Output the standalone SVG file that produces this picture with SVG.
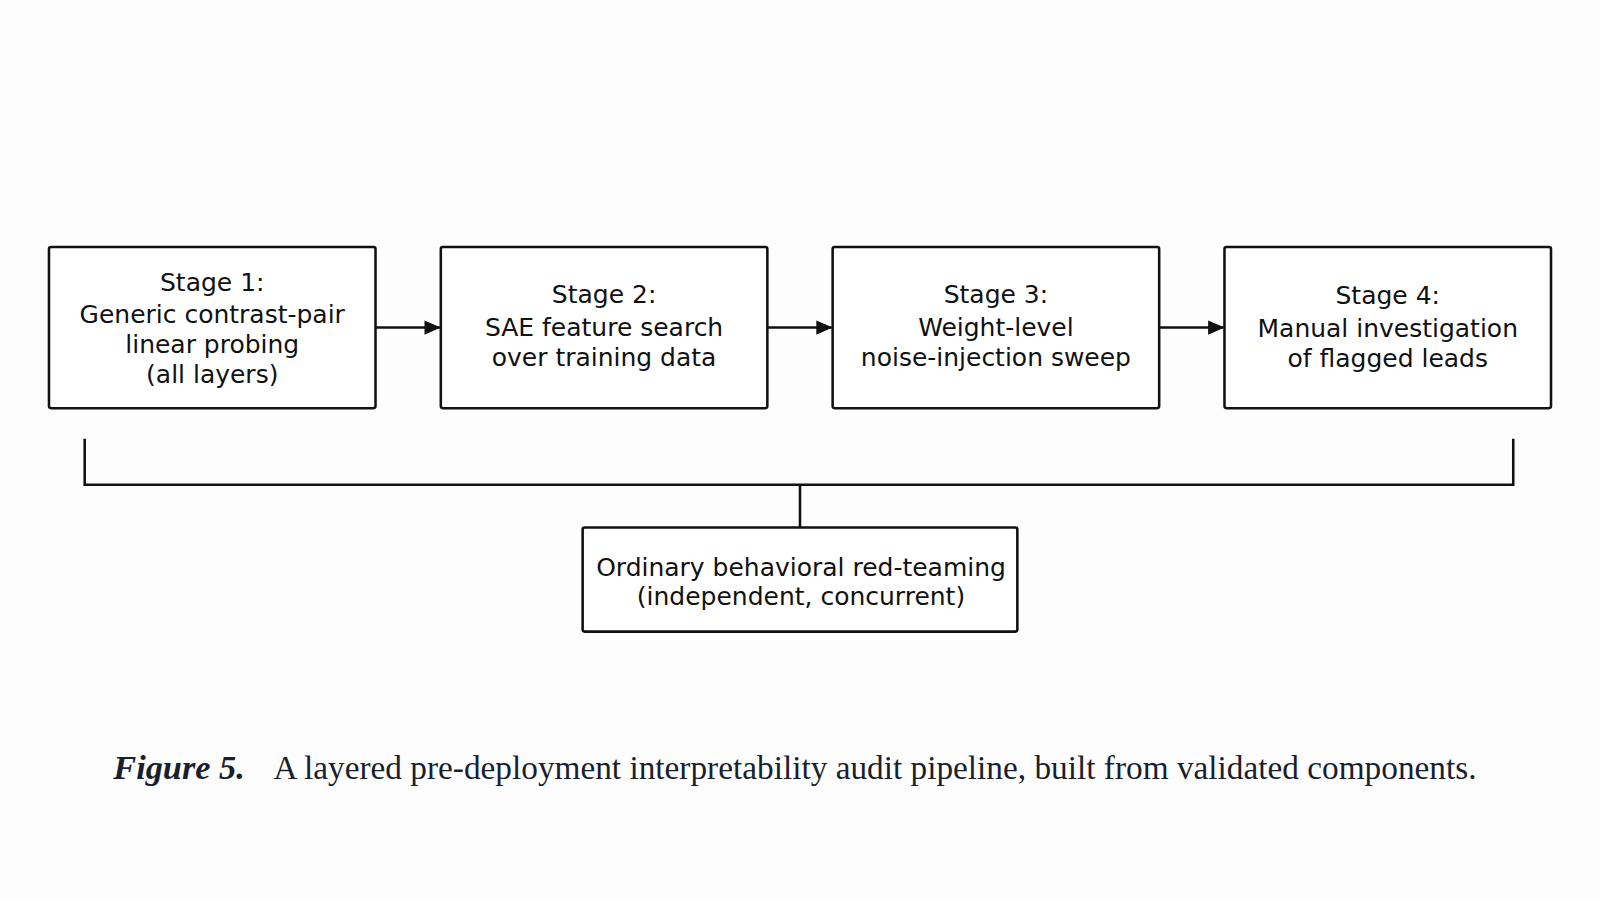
<svg xmlns="http://www.w3.org/2000/svg" width="1600" height="900" viewBox="0 0 1600 900">
<style>
.box{fill:#fff;stroke:#111;stroke-width:2.5}
.t{font-family:"DejaVu Sans",sans-serif;font-size:24.5px;fill:#111;text-anchor:middle}
.c{stroke:#111;stroke-width:2.5;fill:none}
.cap{font-family:"Liberation Serif",serif;font-size:32px;fill:#1a1f2e}
</style>
<defs><marker id="a" markerWidth="16" markerHeight="16" refX="15" refY="8" orient="auto" markerUnits="userSpaceOnUse" viewBox="0 0 16 16"><path d="M0,1L16,8L0,15z" fill="#111"/></marker></defs>
<rect width="1600" height="900" fill="#fdfdfd"/>
<g transform="scale(1.0204)">
<g id="connectors">
<line class="c" x1="368" y1="321" x2="431" y2="321" marker-end="url(#a)"/>
<line class="c" x1="752" y1="321" x2="815" y2="321" marker-end="url(#a)"/>
<line class="c" x1="1136" y1="321" x2="1199" y2="321" marker-end="url(#a)"/>
<path class="c" d="M83,430V475H1483V430M784,475V517"/>
</g>
<g id="s1"><rect class="box" x="48" y="242" width="320" height="158" rx="2"/>
<text class="t" x="208" y="285">Stage 1:</text><text class="t" x="208" y="317">Generic contrast-pair</text><text class="t" x="208" y="346">linear probing</text><text class="t" x="208" y="375">(all layers)</text></g>
<g id="s2"><rect class="box" x="432" y="242" width="320" height="158" rx="2"/>
<text class="t" x="592" y="297">Stage 2:</text><text class="t" x="592" y="329">SAE feature search</text><text class="t" x="592" y="359">over training data</text></g>
<g id="s3"><rect class="box" x="816" y="242" width="320" height="158" rx="2"/>
<text class="t" x="976" y="297">Stage 3:</text><text class="t" x="976" y="329">Weight-level</text><text class="t" x="976" y="359">noise-injection sweep</text></g>
<g id="s4"><rect class="box" x="1200" y="242" width="320" height="158" rx="2"/>
<text class="t" x="1360" y="298">Stage 4:</text><text class="t" x="1360" y="330">Manual investigation</text><text class="t" x="1360" y="360">of flagged leads</text></g>
<g id="rt"><rect class="box" x="571" y="517" width="426" height="102" rx="2"/>
<text class="t" x="785" y="564">Ordinary behavioral red-teaming</text><text class="t" x="785" y="593">(independent, concurrent)</text></g>
<text class="cap" x="111" y="763" font-weight="bold" font-style="italic" textLength="129" lengthAdjust="spacingAndGlyphs">Figure 5.</text>
<text class="cap" x="268" y="763" textLength="1179" lengthAdjust="spacingAndGlyphs">A layered pre-deployment interpretability audit pipeline, built from validated components.</text>
</g>
</svg>
